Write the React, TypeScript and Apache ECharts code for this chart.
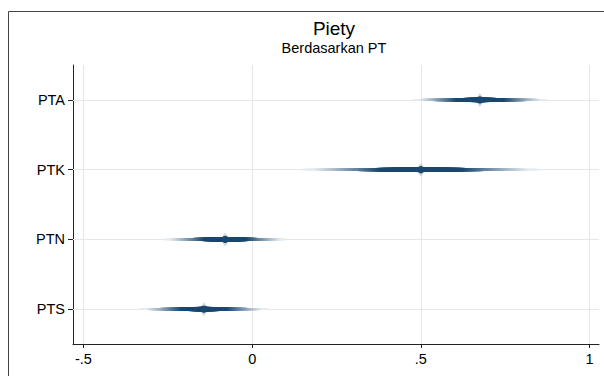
import React, { useEffect, useRef } from "react";
import * as echarts from "echarts";

const categories = ["PTA", "PTK", "PTN", "PTS"];
const means = [0.675, 0.5, -0.08, -0.143];
const lows = [0.475, 0.148, -0.261, -0.333];
const highs = [0.875, 0.852, 0.101, 0.047];
const tickValues = [-0.5, 0, 0.5, 1];
const tickLabels = ["-.5", "0", ".5", "1"];

const NAVY = [26, 71, 111];

function mix(f: number) {
  const r = Math.round(255 + (NAVY[0] - 255) * f);
  const g = Math.round(255 + (NAVY[1] - 255) * f);
  const b = Math.round(255 + (NAVY[2] - 255) * f);
  return `rgb(${r},${g},${b})`;
}

export default function App() {
  const ref = useRef<HTMLDivElement>(null);
  useEffect(() => {
    document.body.style.margin = "0";
    const chart = echarts.init(ref.current!, null, { renderer: "svg" });
    const font = "Liberation Sans, Arial, Helvetica, sans-serif";
    const data = categories.map((c, i) => [i, means[i], lows[i], highs[i]]);
    chart.setOption({
      animation: false,
      backgroundColor: "#ffffff",
      grid: { left: 73, right: 5, top: 65, bottom: 32, containLabel: false },
      graphic: [
        {
          type: "rect",
          silent: true,
          shape: { x: 8.5, y: 11.5, width: 700, height: 500 },
          style: { fill: "none", stroke: "#444", lineWidth: 1 },
          z: -10,
        },
        {
          type: "text",
          x: 334,
          y: 28,
          style: {
            text: "Piety",
            font: `19px ${font}`,
            fill: "#000",
            textAlign: "center",
            textVerticalAlign: "middle",
          },
        },
        {
          type: "text",
          x: 334,
          y: 48,
          style: {
            text: "Berdasarkan PT",
            font: `14.5px ${font}`,
            fill: "#000",
            textAlign: "center",
            textVerticalAlign: "middle",
          },
        },
      ],
      xAxis: {
        type: "value",
        min: -0.531,
        max: 1.028,
        axisLine: { show: true, onZero: false, lineStyle: { color: "#222", width: 1 } },
        axisTick: { show: true, length: 4, customValues: tickValues, lineStyle: { color: "#222" } },
        axisLabel: {
          customValues: tickValues,
          color: "#000",
          fontSize: 14.5,
          fontFamily: font,
          margin: 7,
          formatter: (v: number) => {
            const i = tickValues.findIndex((t) => Math.abs(t - v) < 1e-6);
            return i >= 0 ? tickLabels[i] : "";
          },
        },
        splitLine: { show: false },
      },
      yAxis: {
        type: "category",
        data: categories,
        inverse: true,
        axisLine: { show: true, onZero: false, lineStyle: { color: "#222", width: 1 } },
        axisTick: { show: true, length: 5, alignWithLabel: true, lineStyle: { color: "#222" } },
        axisLabel: { color: "#000", fontSize: 14.5, fontFamily: font, margin: 8 },
        splitLine: { show: false },
      },
      series: [
        {
          type: "line",
          data: [],
          silent: true,
          markLine: {
            silent: true,
            symbol: "none",
            label: { show: false },
            lineStyle: { color: "#e6e6e6", width: 1, type: "solid" },
            data: [
              ...tickValues.map((v) => ({ xAxis: v })),
              ...categories.map((c) => ({ yAxis: c })),
            ],
          },
          z: 1,
        },
        {
          type: "custom",
          z: 5,
          data,
          renderItem: (params: any, api: any) => {
            const cat = api.value(0);
            const m = api.value(1);
            const lo = api.value(2);
            const hi = api.value(3);
            const half = (hi - lo) / 2;
            const children: any[] = [];
            const N = 70;
            for (let k = 0; k < N; k++) {
              const u = 1 - k / N;
              const a = api.coord([m - u * half, cat]);
              const b = api.coord([m + u * half, cat]);
              let f = u < 0.36 ? 1 : Math.pow((1 - u) / 0.64, 1.1);
              f = Math.max(0.11, Math.min(1, f));
              const h = 1.8 + 3.2 * Math.pow(1 - u, 1.3);
              children.push({
                type: "rect",
                shape: { x: a[0], y: a[1] - h / 2, width: b[0] - a[0], height: h },
                style: { fill: mix(f) },
              });
            }
            const c = api.coord([m, cat]);
            children.push({
              type: "polygon",
              shape: {
                points: [
                  [c[0] - 5, c[1]],
                  [c[0], c[1] - 7],
                  [c[0] + 5, c[1]],
                  [c[0], c[1] + 7],
                ],
              },
              style: { fill: "rgba(26,71,111,0.2)" },
            });
            children.push({
              type: "circle",
              shape: { cx: c[0], cy: c[1], r: 3.6 },
              style: { fill: mix(1) },
            });
            return { type: "group", children };
          },
        },
      ],
    });
    return () => chart.dispose();
  }, []);
  return <div ref={ref} style={{ width: 604, height: 376 }} />;
}
